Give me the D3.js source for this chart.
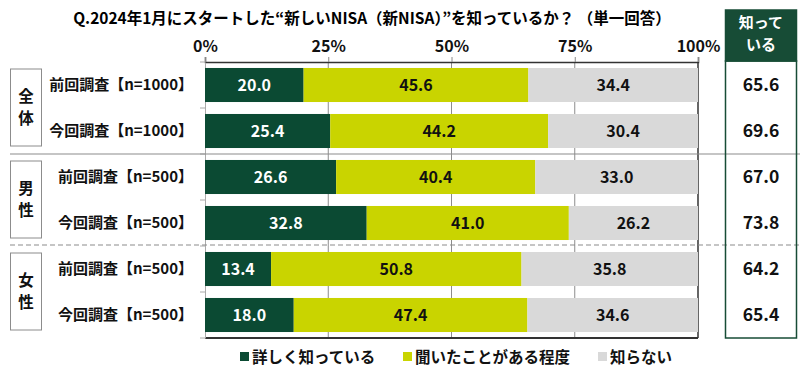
<!DOCTYPE html>
<html>
<head>
<meta charset="utf-8">
<script src="https://cdn.jsdelivr.net/npm/d3@7"></script>
<style>
  body { margin: 0; background: #fff; }
  text { font-family: "Noto Sans CJK JP", "Noto Sans", sans-serif; font-weight: 700; }
</style>
</head>
<body>
<div id="chart"></div>
<script>
// data
var rowLabels = ["前回調査【n=1000】", "今回調査【n=1000】", "前回調査【n=500】", "今回調査【n=500】", "前回調査【n=500】", "今回調査【n=500】"];
var groups = ["全体", "男性", "女性"];
var seriesNames = ["詳しく知っている", "聞いたことがある程度", "知らない"];
var detailed = [20.0, 25.4, 26.6, 32.8, 13.4, 18.0];
var heard = [45.6, 44.2, 40.4, 41.0, 50.8, 47.4];
var unknown = [34.4, 30.4, 33.0, 26.2, 35.8, 34.6];
var knowTotal = [65.6, 69.6, 67.0, 73.8, 64.2, 65.4];
var tickValues = [0, 25, 50, 75, 100];

var colors = ["#0b4a33", "#c9d400", "#d9d9d9"];

var svgWidth = 800, svgHeight = 378;
var svg = d3.select("#chart").append("svg")
    .attr("width", svgWidth)
    .attr("height", svgHeight);

var plot = { left: 205, right: 698, top: 62, bottom: 338 };

var xScale = d3.scaleLinear().domain([0, 100]).range([plot.left, plot.right]);
var yScale = d3.scaleBand().domain(d3.range(rowLabels.length))
    .range([plot.top, plot.bottom]).paddingInner(0.26).paddingOuter(0.13);
var yOuter = d3.scaleBand().domain(d3.range(rowLabels.length)).range([plot.top, plot.bottom]);

// title
svg.append("text")
    .attr("x", 372).attr("y", 24)
    .attr("text-anchor", "middle")
    .attr("font-size", 15.5)
    .text("Q.2024年1月にスタートした“新しいNISA（新NISA）”を知っているか？ （単一回答）");

// gridlines
svg.append("g").selectAll("line")
    .data([25, 50, 75])
    .enter().append("line")
    .attr("x1", d => xScale(d)).attr("x2", d => xScale(d))
    .attr("y1", plot.top).attr("y2", plot.bottom)
    .attr("stroke", "#8c8c8c").attr("stroke-width", 1);

// top axis
var topAxis = d3.axisTop(xScale).tickValues(tickValues).tickFormat(d => d + "%").tickSize(5);
var gTop = svg.append("g")
    .attr("transform", `translate(0, ${plot.top})`)
    .call(topAxis);
gTop.select(".domain").attr("stroke", "#333").attr("stroke-width", 1.5);
gTop.selectAll(".tick line").attr("stroke", "#888");
gTop.selectAll(".tick text")
    .attr("font-size", 16).attr("fill", "#111").attr("dy", "-0.1em")
    .style("font-family", "'Noto Sans CJK JP', sans-serif").style("font-weight", 700);

// bottom and side lines
svg.append("line")
    .attr("x1", plot.left).attr("x2", plot.right)
    .attr("y1", plot.bottom).attr("y2", plot.bottom)
    .attr("stroke", "#333").attr("stroke-width", 2);
svg.append("line")
    .attr("x1", plot.right).attr("x2", plot.right)
    .attr("y1", plot.top).attr("y2", plot.bottom)
    .attr("stroke", "#333").attr("stroke-width", 1.5);

// left axis
var leftAxis = d3.axisLeft(yOuter).tickValues([]).tickSizeOuter(0);
var gLeft = svg.append("g").attr("transform", `translate(${plot.left}, 0)`).call(leftAxis);
gLeft.select(".domain").attr("stroke", "#aaa");
svg.append("g").selectAll("line")
    .data(d3.range(rowLabels.length + 1))
    .enter().append("line")
    .attr("x1", plot.left - 5).attr("x2", plot.left)
    .attr("y1", d => plot.top + d * yOuter.step())
    .attr("y2", d => plot.top + d * yOuter.step())
    .attr("stroke", "#aaa");

// stacked bars
var rows = rowLabels.map((l, i) => [detailed[i], heard[i], unknown[i]]);
var rowG = svg.append("g").selectAll("g")
    .data(rows)
    .enter().append("g");
rowG.each(function(vals, i) {
    var g = d3.select(this);
    var start = 0;
    vals.forEach(function(v, k) {
        var x0 = xScale(start), x1 = xScale(start + v);
        g.append("rect")
            .attr("x", x0).attr("y", yScale(i))
            .attr("width", x1 - x0).attr("height", yScale.bandwidth())
            .attr("fill", colors[k]);
        g.append("text")
            .attr("x", (x0 + x1) / 2)
            .attr("y", yScale(i) + yScale.bandwidth() / 2)
            .attr("dy", "0.36em")
            .attr("text-anchor", "middle")
            .attr("font-size", 16)
            .attr("fill", k == 0 ? "#fff" : "#111")
            .text(v.toFixed(1));
        start += v;
    });
});

// row labels
svg.append("g").selectAll("text")
    .data(rowLabels)
    .enter().append("text")
    .attr("x", 193)
    .attr("y", (d, i) => yOuter(i) + yOuter.bandwidth() / 2)
    .attr("dy", "0.36em")
    .attr("text-anchor", "end")
    .attr("font-size", 15)
    .attr("fill", "#111")
    .text(d => d);

// group separators
svg.append("line")
    .attr("x1", 10).attr("x2", 800)
    .attr("y1", plot.top + 2 * yOuter.step()).attr("y2", plot.top + 2 * yOuter.step())
    .attr("stroke", "#8c8c8c").attr("stroke-width", 1.2);
svg.append("line")
    .attr("x1", 10).attr("x2", 800)
    .attr("y1", plot.top + 4 * yOuter.step() - 1).attr("y2", plot.top + 4 * yOuter.step() - 1)
    .attr("stroke", "#8c8c8c").attr("stroke-width", 1.2)
    .attr("stroke-dasharray", "5,3");

// group boxes
groups.forEach(function(gname, j) {
    var y0 = plot.top + 2 * j * yOuter.step() + 7;
    var y1 = plot.top + 2 * (j + 1) * yOuter.step() - 8;
    svg.append("rect")
        .attr("x", 10.5).attr("y", y0)
        .attr("width", 31).attr("height", y1 - y0)
        .attr("fill", "#fff").attr("stroke", "#8c8c8c");
    var cy = (y0 + y1) / 2;
    gname.split("").forEach(function(ch, c) {
        svg.append("text")
            .attr("x", 26).attr("y", cy + (c - 0.5) * 22.5)
            .attr("dy", "0.36em")
            .attr("text-anchor", "middle")
            .attr("font-size", 15.5)
            .attr("fill", "#111")
            .text(ch);
    });
});

// right table
var tx = 725.5, tw = 71;
svg.append("rect")
    .attr("x", tx).attr("y", 10).attr("width", tw).attr("height", 51)
    .attr("fill", "#174c36");
svg.append("rect")
    .attr("x", tx).attr("y", 61).attr("width", tw).attr("height", plot.bottom - 61)
    .attr("fill", "none").attr("stroke", "#174c36").attr("stroke-width", 1.5);
svg.append("rect")
    .attr("x", tx).attr("y", 10).attr("width", tw).attr("height", 51)
    .attr("fill", "none").attr("stroke", "#174c36").attr("stroke-width", 1.5);
["知って", "いる"].forEach(function(t, i) {
    svg.append("text")
        .attr("x", tx + tw / 2).attr("y", 28 + i * 22)
        .attr("text-anchor", "middle")
        .attr("font-size", 15)
        .attr("fill", "#fff")
        .text(t);
});
svg.append("g").selectAll("text")
    .data(knowTotal)
    .enter().append("text")
    .attr("x", tx + tw / 2)
    .attr("y", (d, i) => yScale(i) + yScale.bandwidth() / 2)
    .attr("dy", "0.36em")
    .attr("text-anchor", "middle")
    .attr("font-size", 17.5)
    .attr("fill", "#111")
    .text(d => d.toFixed(1));

// legend
var legendX = [240, 403, 598];
var legend = svg.append("g").selectAll("g")
    .data(seriesNames)
    .enter().append("g")
    .attr("transform", (d, i) => `translate(${legendX[i]}, 357)`);
legend.append("rect")
    .attr("x", 0).attr("y", -5).attr("width", 9).attr("height", 9)
    .attr("fill", (d, i) => colors[i]);
legend.append("text")
    .attr("x", 12).attr("y", 0)
    .attr("dy", "0.36em")
    .attr("font-size", 15.5)
    .attr("fill", "#111")
    .text(d => d);
</script>
</body>
</html>
